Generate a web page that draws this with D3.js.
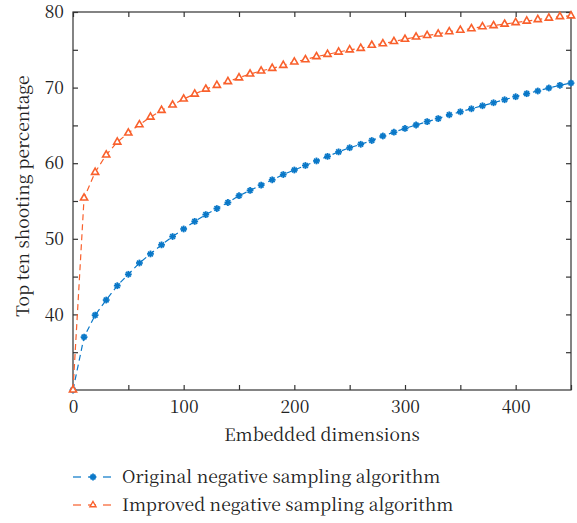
<!DOCTYPE html>
<html><head><meta charset="utf-8">
<script src="https://cdn.jsdelivr.net/npm/d3@7"></script>
<style>body{margin:0;background:#fff}</style>
</head><body><svg id="c" width="577" height="523"></svg>
<script>
const dims = [0,10,20,30,40,50,60,70,80,90,100,110,120,130,140,150,160,170,180,190,200,210,220,230,240,250,260,270,280,290,300,310,320,330,340,350,360,370,380,390,400,410,420,430,440,450];
const original = [30.0,37.0,39.9,41.9,43.8,45.3,46.8,48.0,49.2,50.3,51.3,52.3,53.2,54.0,54.8,55.7,56.4,57.1,57.8,58.5,59.1,59.7,60.3,60.9,61.5,62.05,62.5,63.0,63.6,64.1,64.6,65.05,65.5,65.9,66.4,66.8,67.2,67.6,68.0,68.4,68.8,69.2,69.55,69.95,70.3,70.6];
const improved = [30.0,55.4,58.8,61.1,62.8,64.0,65.1,66.1,67.0,67.7,68.5,69.15,69.8,70.3,70.8,71.3,71.8,72.2,72.55,72.95,73.4,73.7,74.1,74.4,74.7,75.0,75.2,75.6,75.8,76.1,76.4,76.7,76.9,77.1,77.4,77.6,77.8,78.06,78.2,78.4,78.6,78.8,79.0,79.2,79.4,79.5];
const seriesNames = ["Original negative sampling algorithm","Improved negative sampling algorithm"];
const xTickLabels = [0,100,200,300,400];
const yTickLabels = [40,50,60,70,80];
const colors = ["#0a78c8","#f9602c"];

const FONT = '"Noto Serif CJK SC", "Liberation Serif"';
const svg = d3.select("#c");
const L=73, R=571, T=12, B=390;
const x = d3.scaleLinear().domain([0,450]).range([L,R]);
const y = d3.scaleLinear().domain([30,80]).range([B,T]);
const axisCol = "#333";
const fs = 17.5;

svg.append("rect").attr("x",L).attr("y",T).attr("width",R-L).attr("height",B-T)
  .attr("fill","none").attr("stroke",axisCol).attr("stroke-width",1.2);

const xMinor = d3.range(0,451,50), yMinor = d3.range(35,81,5);
const tl = 5;
const fmt = v => xTickLabels.includes(v) ? v : "";
const fmtY = v => yTickLabels.includes(v) ? v : "";
function styleAxis(g){
  g.select(".domain").remove();
  g.selectAll(".tick line").attr("stroke",axisCol).attr("stroke-width",1.2);
  g.selectAll(".tick text").attr("fill","#222").style("font-size",fs+"px").style("font-family",FONT);
}
svg.append("g").attr("transform",`translate(0,${B})`)
  .call(d3.axisBottom(x).tickValues(xMinor).tickSize(-tl).tickPadding(11).tickFormat(fmt)).call(styleAxis);
svg.append("g").attr("transform",`translate(0,${T})`)
  .call(d3.axisTop(x).tickValues(xMinor).tickSize(-tl).tickFormat("")).call(styleAxis);
svg.append("g").attr("transform",`translate(${L},0)`)
  .call(d3.axisLeft(y).tickValues(yMinor).tickSize(-tl).tickPadding(9).tickFormat(fmtY)).call(styleAxis);
svg.append("g").attr("transform",`translate(${R},0)`)
  .call(d3.axisRight(y).tickValues(yMinor).tickSize(-tl).tickFormat("")).call(styleAxis);

svg.append("text").attr("x",(L+R)/2).attr("y",441).attr("text-anchor","middle").style("font-family",FONT)
  .style("font-size",fs+"px").attr("fill","#222").text("Embedded dimensions");
svg.append("text").attr("transform",`translate(29,196) rotate(-90)`).attr("text-anchor","middle").style("font-family",FONT)
  .style("font-size",fs+"px").attr("fill","#222").text("Top ten shooting percentage");

const data = [original, improved];
const line = d3.line().x((d,i)=>x(dims[i])).y(d=>y(d));
const tri = d3.symbol().type(d3.symbolTriangle).size(22);
function star(g, col){
  const r=3.4;
  for(let k=0;k<4;k++){
    const a=k*Math.PI/4;
    g.append("line").attr("x1",-r*Math.cos(a)).attr("y1",-r*Math.sin(a)).attr("x2",r*Math.cos(a)).attr("y2",r*Math.sin(a))
      .attr("stroke",col).attr("stroke-width",1.8);
  }
}
data.forEach((vals,si)=>{
  svg.append("path").datum(vals).attr("d",line).attr("fill","none")
    .attr("stroke",colors[si]).attr("stroke-width",1.2).attr("stroke-dasharray","6,4");
  const g = svg.append("g");
  vals.forEach((v,i)=>{
    const m = g.append("g").attr("transform",`translate(${x(dims[i])},${y(v)})`);
    if(si===0) star(m, colors[0]);
    else m.append("path").attr("d",tri).attr("fill","#fff").attr("stroke",colors[1]).attr("stroke-width",1.6);
  });
});

seriesNames.forEach((n,si)=>{
  const ly = 477 + si*28;
  svg.append("line").attr("x1",73).attr("x2",113).attr("y1",ly).attr("y2",ly)
    .attr("stroke",colors[si]).attr("stroke-width",1.4).attr("stroke-dasharray","8,7").attr("opacity",0.8);
  const m = svg.append("g").attr("transform",`translate(93,${ly})`);
  if(si===0) star(m, colors[0]);
  else m.append("path").attr("d",d3.symbol().type(d3.symbolTriangle).size(16)).attr("fill","#fff").attr("stroke",colors[1]).attr("stroke-width",1.4);
  svg.append("text").attr("x",122).attr("y",ly+6).style("font-family",FONT).style("font-size",fs+"px").attr("fill","#222").text(n);
});
</script></body></html>
